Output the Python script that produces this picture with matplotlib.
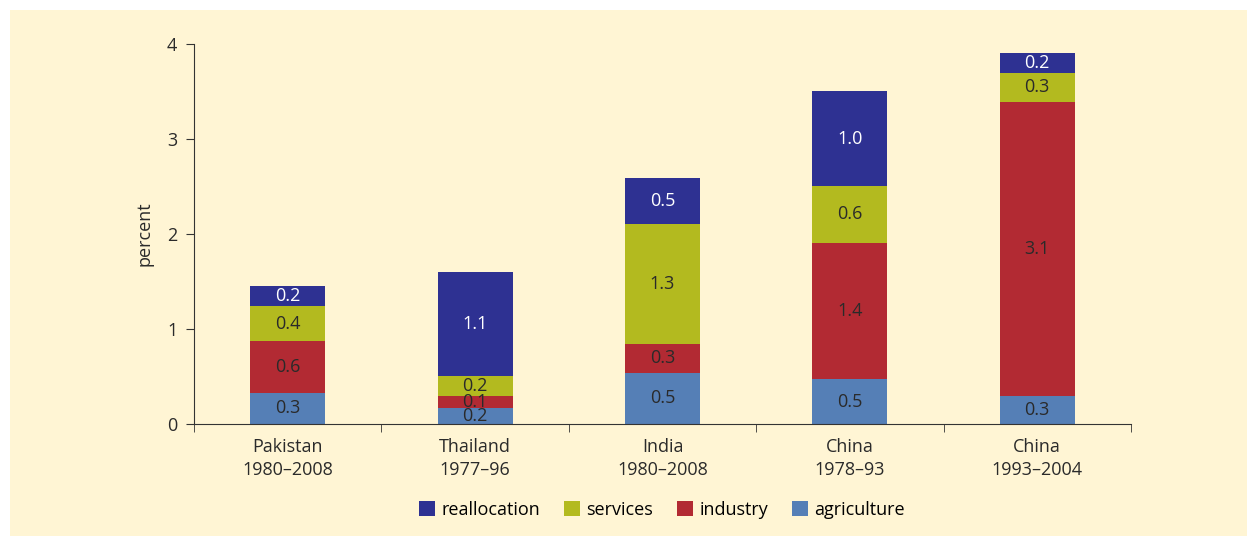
import numpy as np
import matplotlib.pyplot as plt
from matplotlib.patches import Rectangle

plt.rcParams['font.family'] = ['Open Sans', 'DejaVu Sans']

categories = ['Pakistan\n1980\u20132008', 'Thailand\n1977\u201396', 'India\n1980\u20132008',
              'China\n1978\u201393', 'China\n1993\u20132004']
agriculture = [0.33, 0.17, 0.54, 0.47, 0.29]
industry = [0.54, 0.12, 0.30, 1.44, 3.10]
services = [0.37, 0.22, 1.27, 0.60, 0.31]
reallocation = [0.21, 1.09, 0.48, 0.99, 0.20]
agr_lab = ['0.3', '0.2', '0.5', '0.5', '0.3']
ind_lab = ['0.6', '0.1', '0.3', '1.4', '3.1']
ser_lab = ['0.4', '0.2', '1.3', '0.6', '0.3']
rea_lab = ['0.2', '1.1', '0.5', '1.0', '0.2']

bg = '#fff5d4'
txt = '#2a2a2a'
fig = plt.figure(figsize=(12.47, 5.36), dpi=100)
fig.patch.set_facecolor('white')
fig.patches.append(Rectangle((10/1247, 0), 1, 1 - 10/536, transform=fig.transFigure,
                             facecolor=bg, edgecolor='none', zorder=-10))
ax = fig.add_axes([194/1247, 1 - 424/536, (1131-194)/1247, (424-44)/536])
ax.set_facecolor(bg)

x = np.arange(len(categories))
w = 0.4
series = [(agriculture, agr_lab, '#557fb6', 'agriculture', txt),
          (industry, ind_lab, '#b22a33', 'industry', txt),
          (services, ser_lab, '#b3ba1f', 'services', txt),
          (reallocation, rea_lab, '#2e3192', 'reallocation', 'white')]
bottom = np.zeros(len(categories))
handles = {}
for vals, labs, col, name, tcol in series:
    vals = np.array(vals)
    b = ax.bar(x, vals, w, bottom=bottom, color=col, label=name)
    handles[name] = b
    for xi, bo, v, t in zip(x, bottom, vals, labs):
        ax.text(xi, bo + v / 2, t, ha='center', va='center', color=tcol, fontsize=13)
    bottom = bottom + vals

ax.set_xlim(-0.5, 4.5)
ax.set_ylim(0, 4)
ax.set_yticks([0, 1, 2, 3, 4])
ax.tick_params(axis='y', labelsize=13, length=6, color='#333333', labelcolor=txt, pad=6)
ax.set_xticks(x)
ax.set_xticklabels(categories, fontsize=13, color=txt, linespacing=1.4)
ax.tick_params(axis='x', length=0, pad=10)
ax.set_xticks(np.arange(-0.5, 5, 1), minor=True)
ax.tick_params(axis='x', which='minor', length=6, color='#333333')
ax.set_ylabel('percent', fontsize=13, color=txt, labelpad=10)
for s in ['top', 'right']:
    ax.spines[s].set_visible(False)
for s in ['left', 'bottom']:
    ax.spines[s].set_color('#333333')

order = ['reallocation', 'services', 'industry', 'agriculture']
fig.legend([handles[n] for n in order], order, loc='center', bbox_to_anchor=(662/1247, 1 - 510/536),
           ncol=4, frameon=False, fontsize=13, handlelength=0.9, handleheight=0.9,
           columnspacing=1.3, handletextpad=0.35)

fig.savefig('out.png', dpi=100, facecolor='white')
